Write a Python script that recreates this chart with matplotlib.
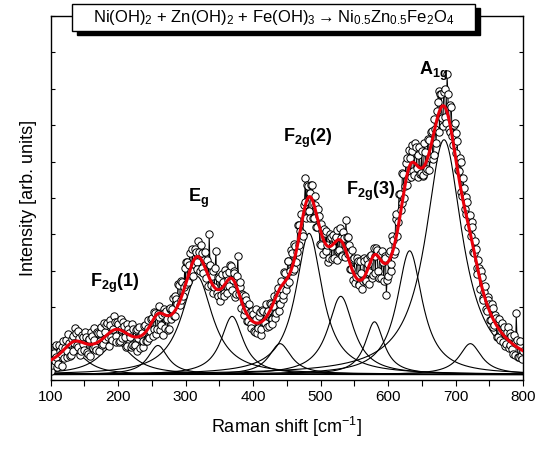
import numpy as np
import matplotlib.pyplot as plt
from matplotlib.patches import Rectangle
from matplotlib.ticker import MultipleLocator

plt.rcParams['font.family'] = ['Liberation Sans', 'DejaVu Sans']
plt.rcParams['mathtext.default'] = 'regular'

# measured spectrum: points at 100, 102.5 ... 800 cm-1
start_a, step = 100.0, 2.5
intensity_a = [
    0.82, 0.41, 0.75, 0.63, 0.37, 0.96, 0.71, 0.90, 0.60, 1.09, 0.79, 1.03, 0.68, 1.20, 1.02, 1.29, 0.90, 1.15, 0.79, 1.19,
    0.83, 1.18, 0.72, 1.12, 1.32, 0.88, 1.10, 0.82, 1.28, 1.07, 1.45, 0.99, 1.32, 1.50, 1.18, 1.65, 1.18, 1.39, 1.60, 1.05,
    1.55, 1.08, 1.41, 1.59, 1.17, 0.94, 1.41, 1.18, 0.95, 1.39, 0.97, 1.41, 1.15, 0.87, 1.30, 1.07, 1.50, 1.06, 1.43, 1.34,
    1.70, 1.40, 1.84, 1.39, 1.73, 1.37, 1.80, 1.94, 1.43, 1.69, 1.41, 1.98, 1.95, 1.76, 2.32, 2.09, 2.60, 2.19, 2.68, 2.56,
    2.65, 3.25, 3.15, 2.90, 3.60, 3.18, 3.52, 3.05, 3.53, 3.72, 3.07, 3.31, 2.80, 3.29, 4.00, 2.61, 3.00, 2.55, 3.55, 2.30,
    2.80, 2.34, 2.68, 2.31, 2.90, 2.75, 2.59, 3.14, 2.74, 2.93, 2.37, 3.41, 2.55, 1.98, 2.35, 1.93, 2.20, 1.63, 1.86, 1.44,
    1.82, 1.31, 1.69, 1.43, 1.87, 1.40, 1.89, 1.57, 1.45, 1.91, 2.12, 1.67, 2.03, 1.71, 2.29, 2.52, 2.10, 2.50, 2.35, 2.95,
    2.65, 3.28, 3.00, 3.48, 3.05, 3.69, 3.53, 4.26, 4.10, 4.05, 4.80, 5.55, 5.35, 4.65, 5.13, 5.37, 4.45, 4.80, 4.20, 4.50,
    3.70, 4.10, 4.15, 3.55, 3.70, 3.36, 3.92, 3.69, 3.35, 3.94, 4.13, 3.56, 3.90, 3.40, 3.90, 4.40, 3.45, 3.72, 3.05, 3.32,
    3.35, 2.84, 3.27, 2.60, 2.94, 2.73, 3.27, 2.71, 3.20, 2.96, 3.43, 2.89, 3.40, 3.63, 3.00, 3.43, 2.80, 3.23, 3.40, 2.35,
    2.85, 3.55, 3.20, 3.85, 3.55, 4.55, 4.35, 5.10, 4.85, 5.66, 5.32, 6.09, 5.55, 6.10, 6.30, 5.75, 6.50, 5.83, 6.17, 5.65,
    6.28, 5.62, 6.27, 5.81, 6.60, 6.11, 6.83, 6.19, 6.90, 7.39, 7.95, 7.86, 7.20, 7.90, 7.23, 8.40, 6.90, 7.55, 6.70, 7.00,
    6.25, 6.58, 5.75, 5.98, 5.05, 5.28, 4.55, 4.88, 4.50, 3.95, 4.20, 3.50, 3.60, 2.91, 3.08, 2.99, 2.25, 2.43, 1.95, 2.28,
    2.10, 1.64, 1.98, 1.51, 1.70, 1.19, 1.68, 1.36, 1.05, 1.45, 1.00, 1.45, 0.95, 1.21, 0.72, 1.02, 1.83, 0.64, 0.95, 0.66,
    0.80,
]
# points in between: 101.25, 103.75 ... 798.75 cm-1
start_b = 101.25
intensity_b = [
    0.25, 0.78, 0.52, 0.95, 0.44, 0.79, 0.38, 1.08, 0.87, 0.62, 1.26, 0.66, 1.14, 0.81, 1.43, 0.95, 1.35, 0.70, 1.24, 0.98,
    1.33, 0.77, 1.12, 0.67, 1.22, 1.44, 0.91, 1.33, 0.80, 1.29, 0.97, 1.56, 1.14, 1.57, 0.94, 1.52, 1.09, 1.75, 1.20, 1.60,
    1.04, 1.67, 1.15, 1.48, 0.91, 1.53, 1.30, 0.92, 1.55, 0.93, 1.37, 0.81, 1.46, 1.23, 0.91, 1.49, 1.08, 1.65, 1.16, 1.67,
    1.22, 1.87, 1.27, 1.81, 2.03, 1.51, 1.25, 1.83, 1.91, 1.38, 1.95, 1.67, 2.25, 1.77, 2.23, 2.65, 2.07, 2.71, 2.30, 3.08,
    3.25, 2.70, 3.50, 3.00, 2.87, 3.60, 3.23, 3.82, 3.00, 3.50, 2.94, 3.53, 3.25, 2.59, 3.17, 2.86, 2.38, 3.08, 2.38, 2.83,
    2.17, 2.91, 2.40, 3.03, 2.38, 2.97, 3.17, 2.47, 2.99, 2.28, 2.87, 2.36, 2.69, 2.37, 1.79, 2.32, 1.62, 2.10, 1.53, 1.91,
    1.36, 1.95, 1.28, 1.77, 1.23, 1.92, 1.56, 2.09, 1.83, 1.49, 2.10, 1.55, 2.32, 1.85, 2.43, 1.91, 2.73, 2.23, 2.98, 2.48,
    3.27, 2.69, 3.57, 2.99, 3.75, 3.24, 4.27, 3.71, 4.55, 3.95, 4.90, 4.45, 5.33, 4.44, 5.35, 4.44, 5.05, 4.20, 4.70, 3.75,
    4.30, 3.45, 4.05, 4.10, 3.25, 4.01, 3.33, 3.99, 3.87, 3.31, 3.55, 4.18, 3.43, 4.07, 3.38, 3.92, 3.94, 3.06, 3.58, 2.76,
    2.67, 3.35, 2.64, 3.27, 2.51, 3.35, 2.74, 3.33, 2.63, 3.40, 2.81, 3.62, 2.94, 3.57, 2.79, 3.47, 3.54, 2.72, 3.34, 2.76,
    3.50, 3.00, 3.95, 3.45, 4.42, 3.95, 5.12, 4.67, 5.68, 4.99, 5.95, 5.37, 6.32, 5.57, 6.47, 5.62, 6.39, 5.57, 6.41, 5.69,
    5.60, 6.50, 5.74, 6.63, 5.78, 6.80, 6.06, 7.17, 6.50, 7.64, 6.82, 7.86, 6.99, 8.00, 7.06, 7.87, 6.80, 7.50, 6.45, 7.05,
    6.79, 5.76, 6.09, 5.16, 5.54, 4.71, 5.04, 4.21, 4.53, 4.33, 3.53, 3.82, 3.08, 3.30, 2.51, 2.82, 2.19, 2.57, 1.89, 2.21,
    1.65, 2.08, 1.47, 1.80, 1.17, 1.61, 1.10, 1.58, 1.33, 0.93, 1.33, 0.88, 1.28, 0.84, 1.25, 0.70, 1.11, 0.62, 1.08, 0.59,
]

# fitted Lorentzian components
peak_centers = [135, 197, 259, 317, 369, 440, 483, 530, 580, 632, 683, 722]
peak_heights = [0.60, 0.85, 0.80, 2.70, 1.60, 0.85, 3.88, 2.15, 1.45, 3.40, 6.45, 0.85]
peak_hwhm = [25, 30, 18, 28, 20, 20, 24, 23, 17, 23, 33, 20]
baseline = 0.15

labels = ['F$_{2g}$(1)', 'E$_{g}$', 'F$_{2g}$(2)', 'F$_{2g}$(3)', 'A$_{1g}$']
label_x = [158, 303, 444, 537, 646]
label_y = [2.55, 4.89, 6.54, 5.08, 8.38]

title = ('Ni(OH)$_{2}$ + Zn(OH)$_{2}$ + Fe(OH)$_{3}$\u2009\u2192\u2009'
         'Ni$_{0.5}$Zn$_{0.5}$Fe$_{2}$O$_{4}$')

shift = np.concatenate([start_a + step * np.arange(len(intensity_a)),
                        start_b + step * np.arange(len(intensity_b))])
inten = np.concatenate([intensity_a, intensity_b])
order = np.argsort(shift)
shift, inten = shift[order], inten[order]

grid = np.linspace(100, 800, 1401)

fig = plt.figure(figsize=(5.44, 4.53), dpi=100)
ax = fig.add_axes([0.093, 0.161, 0.8684, 0.8037])

fit = np.full_like(grid, baseline)
for c, h, w in zip(peak_centers, peak_heights, peak_hwhm):
    comp = h * w**2 / (w**2 + (grid - c)**2)
    fit += comp
    ax.plot(grid, baseline + comp, color='black', lw=0.8, zorder=1)

ax.plot(shift, inten, '-o', color='black', lw=0.7, ms=5.3,
        mfc='white', mec='black', mew=0.7, zorder=2)
ax.plot(grid, fit, color='#e8000b', lw=2.2, zorder=3)

for t, x, y in zip(labels, label_x, label_y):
    ax.text(x, y, t, fontsize=13, fontweight='bold', ha='left', va='baseline')

ax.set_xlim(100, 800)
ax.set_ylim(0, 10)
ax.xaxis.set_major_locator(MultipleLocator(100))
ax.xaxis.set_minor_locator(MultipleLocator(50))
ax.yaxis.set_major_locator(MultipleLocator(1))
ax.tick_params(axis='x', which='both', direction='out', length=4, width=0.8,
               labelsize=11, pad=3)
ax.tick_params(axis='y', which='both', direction='in', length=3, width=0.8,
               left=True, right=True, labelleft=False)
for s in ax.spines.values():
    s.set_linewidth(1.0)

ax.set_xlabel('Raman shift [cm$^{-1}$]', fontsize=13, labelpad=8)
ax.set_ylabel('Intensity [arb. units]', fontsize=13, labelpad=10)

# title box with drop shadow
fig.add_artist(Rectangle((0.1415, 0.9227), 0.7408, 0.0596, transform=fig.transFigure,
                         facecolor='black', edgecolor='black', zorder=5))
fig.add_artist(Rectangle((0.1324, 0.9316), 0.7408, 0.0596, transform=fig.transFigure,
                         facecolor='white', edgecolor='black', lw=1.0, zorder=6))
fig.text(0.5028, 0.9614, title, fontsize=12, ha='center', va='center', zorder=7)

fig.savefig('out.png', dpi=100)
